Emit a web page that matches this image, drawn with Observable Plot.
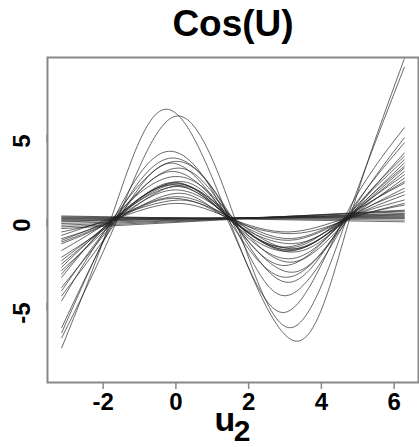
<!DOCTYPE html>
<html><head><meta charset="utf-8">
<script src="https://cdn.jsdelivr.net/npm/d3@7"></script>
<script src="https://cdn.jsdelivr.net/npm/@observablehq/plot@0.6"></script>
<style>body{margin:0;background:#fff;} svg{display:block;}</style>
</head><body><div id="chart"></div>
<script>
// u2 range of the curves (left and right ends)
const uStart = -3.14, uEnd = 6.28;
// cosine-like curves, one entry per curve
const leftEnd  = [-7.7, -7.1, -6.8, -6.5, -4.9, -4.6, -4.3, -4.1, -3.5, -3.3, -3.1, -2.9, -2.7, -2.5, -2.3, -1.9, -1.5, -1.4, -1.3, -1.2, -1.0, -0.8];
const cross1   = [-1.78, -1.6, -1.7, -1.65, -1.72, -1.58, -1.68, -1.62, -1.75, -1.66, -1.6, -1.7, -1.64, -1.68, -1.56, -1.72, -1.66, -1.62, -1.7, -1.6, -1.8, -1.65];
const peakU    = [-0.3, 0.03, -0.2, -0.1, 0.0, -0.15, 0.05, -0.1, 0.0, 0.1, -0.05, 0.0, 0.05, -0.1, 0.1, 0.0, -0.05, 0.05, 0.0, -0.1, 0.1, 0.0];
const peak     = [ 6.5,  6.1,  4.0,  3.6,  3.4,  3.3,  3.0,  2.8,  2.5,  2.2, 2.15,  2.1, 2.05,  2.0, 1.95,  1.9,  1.7,  1.5,  1.3,  1.2,  1.1,  0.9];
const cross2   = [1.45, 1.62, 1.4, 1.5, 1.55, 1.42, 1.52, 1.48, 1.58, 1.46, 1.5, 1.44, 1.54, 1.5, 1.6, 1.47, 1.52, 1.4, 1.5, 1.56, 1.45, 1.5];
const troughU  = [3.33, 3.14, 2.95, 3.0, 3.1, 3.05, 3.2, 3.0, 3.15, 3.1, 3.2, 3.05, 3.15, 3.1, 3.25, 3.1, 3.0, 3.2, 3.1, 3.15, 3.2, 3.1];
const trough   = [-7.3, -6.5, -5.6, -4.6, -3.8, -3.5, -3.2, -2.8, -2.6, -2.4, -2.0, -1.95, -1.9, -1.85, -1.8, -1.75, -1.7, -1.5, -1.3, -1.2, -0.9, -0.8];
const cross3   = [4.78, 4.7, 4.62, 4.72, 4.66, 4.75, 4.7, 4.64, 4.74, 4.68, 4.72, 4.7, 4.66, 4.76, 4.7, 4.62, 4.74, 4.68, 4.72, 4.7, 4.8, 4.66];
const rightEnd = [ 9.5,  9.0,  5.4,  4.8,  4.5,  3.9,  3.7,  3.5,  3.3,  3.1,  3.0,  2.8,  2.6,  2.4,  2.2,  2.1,  1.8,  1.6,  1.4,  1.1,  0.9,  0.8];
// nearly flat straight lines: value at left end and right end
const flatLeft  = [0.15, 0.1, 0.05, 0.0, -0.05, -0.1, -0.15, -0.2, -0.3, -0.4, -0.5, -0.6];
const flatRight = [-0.2, -0.1, 0.0, 0.05, 0.1, 0.15, 0.2, 0.25, 0.3, 0.4, 0.45, 0.5];
const xTicks = [-2, 0, 2, 4, 6];
const yTicks = [-5, 0, 5];

const cosRows = [];
leftEnd.forEach((l, i) => {
  const us = [uStart, cross1[i], peakU[i], cross2[i], troughU[i], cross3[i], uEnd];
  const vs = [l, 0, peak[i], 0, trough[i], 0, rightEnd[i]];
  us.forEach((u, j) => cosRows.push({id: i, u, v: vs[j]}));
});
const flatRows = [];
flatLeft.forEach((l, i) => {
  flatRows.push({id: i, u: uStart, v: l});
  flatRows.push({id: i, u: uEnd, v: flatRight[i]});
});

const fmt = d => String(d);
const chart = Plot.plot({
  width: 419, height: 447,
  marginTop: 57, marginBottom: 65, marginLeft: 47, marginRight: 1,
  x: {domain: [-3.53, 6.67]},
  y: {domain: [-9.76, 9.58]},
  style: {fontFamily: "'Liberation Sans', Arial, sans-serif", background: "white", color: "black"},
  marks: [
    Plot.line(cosRows, {x: "u", y: "v", z: "id", curve: "natural", stroke: "#222", strokeWidth: 0.9, strokeOpacity: 0.75}),
    Plot.line(flatRows, {x: "u", y: "v", z: "id", stroke: "#222", strokeWidth: 0.9, strokeOpacity: 0.75}),
    Plot.frame({stroke: "#888", strokeWidth: 2}),
    Plot.axisX(xTicks, {tickSize: 7, tickPadding: 3, tickFormat: fmt, fontSize: 24, fontWeight: "bold", stroke: "#888", strokeWidth: 1.5, fill: "black", label: null}),
    Plot.axisY(yTicks, {tickSize: 8, tickPadding: 17, tickFormat: fmt, rotate: -90, fontSize: 24, fontWeight: "bold", stroke: "#888", strokeWidth: 1.5, fill: "black", label: null}),
    Plot.text(["Cos(U)"], {frameAnchor: "top", dy: -22, lineAnchor: "bottom", fontSize: 37, fontWeight: "bold", fill: "black"}),
    Plot.text(["u"], {frameAnchor: "bottom", dx: -8, dy: 48, lineAnchor: "bottom", fontSize: 34, fontWeight: "bold", fill: "black"}),
    Plot.text(["2"], {frameAnchor: "bottom", dx: 9, dy: 58, lineAnchor: "bottom", fontSize: 30, fontWeight: "bold", fill: "black"})
  ]
});
document.getElementById("chart").appendChild(chart);
</script>
</body></html>
